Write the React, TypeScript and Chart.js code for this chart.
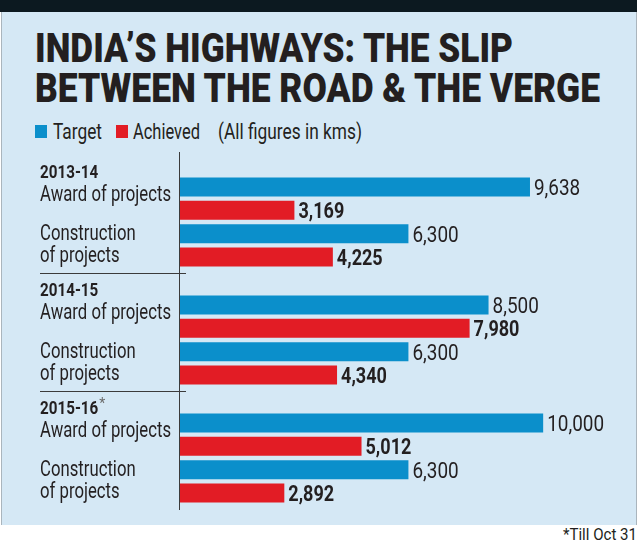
import React, { useEffect, useRef } from 'react';
import { Chart, registerables } from 'chart.js';

Chart.register(...registerables);

// Financial years shown as groups; a trailing "*" marks a partial year.
const years = ['2013-14', '2014-15', '2015-16*'];
const rowNames = ['Award of projects', 'Construction', 'of projects'];
const seriesNames = ['Target', 'Achieved'];

// Kilometres, per year
const awardTarget = [9638, 8500, 10000];
const awardAchieved = [3169, 7980, 5012];
const constructionTarget = [6300, 6300, 6300];
const constructionAchieved = [4225, 4340, 2892];

const titleLines = ['INDIA’S HIGHWAYS: THE SLIP', 'BETWEEN THE ROAD & THE VERGE'];
const unitNote = '(All figures in kms)';
const footNote = '*Till Oct 31';

const BLUE = '#0b8fcb';
const RED = '#e21c25';
const INK = '#231f20';
const PANEL = '#d5e8f5';
const FONT = 'Roboto, "Liberation Sans", Arial, sans-serif';

// Draw horizontally squeezed text (the artwork uses a condensed face).
function squeezed(
  ctx: CanvasRenderingContext2D,
  text: string,
  x: number,
  y: number,
  font: string,
  sx: number,
  color = INK
): number {
  ctx.save();
  ctx.font = font;
  ctx.fillStyle = color;
  ctx.textAlign = 'left';
  ctx.textBaseline = 'alphabetic';
  ctx.translate(x, y);
  ctx.scale(sx, 1);
  ctx.fillText(text, 0, 0);
  const w = ctx.measureText(text).width * sx;
  ctx.restore();
  return w;
}

const rowLabels = {
  id: 'rowLabels',
  afterDatasetsDraw(chart: any) {
    const ctx: CanvasRenderingContext2D = chart.ctx;
    const { left, top, bottom } = chart.chartArea;
    const metas = [0, 1, 2, 3].map((i) => chart.getDatasetMeta(i));
    const labelX = 40;

    ctx.save();
    ctx.strokeStyle = '#3b3b3b';
    ctx.lineWidth = 1;
    // vertical baseline of the bars
    const ax = Math.round(left) + 0.5;
    ctx.beginPath();
    ctx.moveTo(ax, top - 11);
    ctx.lineTo(ax, bottom - 7);
    ctx.stroke();

    // rules between the year groups
    for (let i = 0; i < years.length - 1; i++) {
      const bar = metas[3].data[i];
      const y = Math.round(bar.y + bar.height / 2 + 7) + 0.5;
      ctx.beginPath();
      ctx.moveTo(labelX, y);
      ctx.lineTo(left + 7, y);
      ctx.stroke();
    }
    ctx.restore();

    years.forEach((yr, i) => {
      const yA = (metas[0].data[i].y + metas[1].data[i].y) / 2;
      const yC = (metas[2].data[i].y + metas[3].data[i].y) / 2;
      const star = yr.endsWith('*');
      const yearText = star ? yr.slice(0, -1) : yr;
      const w = squeezed(ctx, yearText, labelX, yA - 21, `bold 19px ${FONT}`, 0.8);
      if (star) squeezed(ctx, '*', labelX + w + 1, yA - 27, `14px ${FONT}`, 1, '#6b6b6b');
      squeezed(ctx, rowNames[0], labelX, yA + 2, `22px ${FONT}`, 0.76);
      squeezed(ctx, rowNames[1], labelX, yC - 5, `22px ${FONT}`, 0.76);
      squeezed(ctx, rowNames[2], labelX, yC + 17, `22px ${FONT}`, 0.76);
    });

    // value at the end of every bar; achieved figures in bold
    metas.forEach((meta, di) => {
      const bold = di % 2 === 1;
      meta.data.forEach((bar: any, i: number) => {
        const v = chart.data.datasets[di].data[i] as number;
        squeezed(
          ctx,
          v.toLocaleString('en-US'),
          bar.x + 4,
          bar.y + 8,
          `${bold ? 'bold ' : ''}22px ${FONT}`,
          bold ? 0.82 : 0.86
        );
      });
    });
  },
};

function BarChart() {
  const ref = useRef<HTMLCanvasElement | null>(null);
  useEffect(() => {
    if (!ref.current) return;
    const common = { categoryPercentage: 0.79, barPercentage: 0.815, borderWidth: 0 };
    const chart = new Chart(ref.current, {
      type: 'bar',
      data: {
        labels: years,
        datasets: [
          { label: `${rowNames[0]} – ${seriesNames[0]}`, data: awardTarget, backgroundColor: BLUE, ...common },
          { label: `${rowNames[0]} – ${seriesNames[1]}`, data: awardAchieved, backgroundColor: RED, ...common },
          { label: `Construction – ${seriesNames[0]}`, data: constructionTarget, backgroundColor: BLUE, ...common },
          { label: `Construction – ${seriesNames[1]}`, data: constructionAchieved, backgroundColor: RED, ...common },
        ],
      },
      options: {
        indexAxis: 'y',
        responsive: false,
        animation: false,
        layout: { padding: { left: 179, right: 24, top: 18, bottom: 8 } },
        scales: {
          x: { display: false, min: 0, max: 12000 },
          y: { display: false },
        },
        plugins: { legend: { display: false }, tooltip: { enabled: false } },
      },
      plugins: [rowLabels],
    } as any);
    return () => chart.destroy();
  }, []);
  return (
    <canvas
      ref={ref}
      width={640}
      height={380}
      style={{ position: 'absolute', left: 0, top: 145, width: 640, height: 380 }}
    />
  );
}

export default function App() {
  return (
    <div style={{ position: 'absolute', left: 0, top: 0, width: 640, height: 543, overflow: 'hidden', background: '#fff' }}>
      <svg width={640} height={543} style={{ position: 'absolute', left: 0, top: 0 }}>
        <rect x={1} y={0} width={636} height={525} fill={PANEL} />
        <line x1={1.5} y1={0} x2={1.5} y2={525} stroke="#aab5bd" />
        <line x1={636.5} y1={0} x2={636.5} y2={525} stroke="#aab5bd" />
        <rect x={0} y={0} width={637} height={12} fill="#0c1920" />
        <text x={35} y={62} fill={INK} fontFamily={FONT} fontWeight={900} fontSize={41}
          textLength={478} lengthAdjust="spacingAndGlyphs">{titleLines[0]}</text>
        <text x={35} y={102} fill={INK} fontFamily={FONT} fontWeight={900} fontSize={41}
          textLength={565} lengthAdjust="spacingAndGlyphs">{titleLines[1]}</text>
        <rect x={35} y={125} width={12} height={13} fill={BLUE} />
        <text x={53} y={139} fill={INK} fontFamily={FONT} fontSize={22}
          textLength={49} lengthAdjust="spacingAndGlyphs">{seriesNames[0]}</text>
        <rect x={116} y={125} width={12} height={13} fill={RED} />
        <text x={133} y={139} fill={INK} fontFamily={FONT} fontSize={22}
          textLength={67} lengthAdjust="spacingAndGlyphs">{seriesNames[1]}</text>
        <text x={218} y={139} fill={INK} fontFamily={FONT} fontSize={22}
          textLength={144} lengthAdjust="spacingAndGlyphs">{unitNote}</text>
        <text x={637} y={540} fill={INK} fontFamily={FONT} fontSize={17} textAnchor="end"
          textLength={74} lengthAdjust="spacingAndGlyphs">{footNote}</text>
      </svg>
      <BarChart />
    </div>
  );
}
